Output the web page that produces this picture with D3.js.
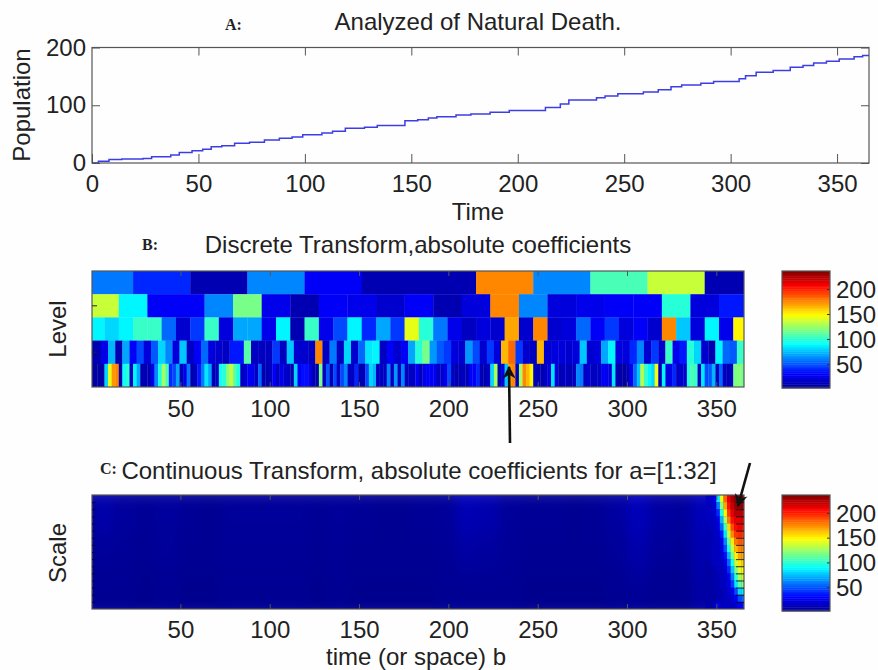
<!DOCTYPE html>
<html>
<head>
<meta charset="utf-8">
<script src="https://cdn.jsdelivr.net/npm/d3@7"></script>
<style>
  html, body { margin: 0; padding: 0; background: #fefefe; }
  svg { display: block; font-family: "Liberation Sans", Arial, sans-serif; fill: #222; }
  .lbl { font-size: 24px; }
  .ser { font-family: "Liberation Serif", serif; font-weight: bold; font-size: 16px; }
</style>
</head>
<body>
<div id="chart"></div>
<script>
// panel A: days where the count steps up, and the count after each step
const stepDays = [0,3,8,14,24,28,37,41,47,52,56,61,67,74,81,88,94,99,108,113,119,128,134,147,153,158,162,171,178,187,196,213,220,224,237,241,247,259,266,272,277,286,292,304,307,312,320,328,334,339,345,351,358,362,365];
const stepPops = [0,3,6,7,8,11,14,18,21,24,28,30,34,36,40,43,45,49,52,55,60,62,65,73,75,78,80,83,85,88,91,96,102,109,113,116,120,123,127,132,135,138,141,146,151,157,160,166,169,173,176,180,184,186,186];

// panel B: detail coefficients, level rows from top to bottom
const level1 = [60,42,12,62,30,12,12,178,62,106,135,12];
const level2 = [138,88,30,30,62,118,26,12,30,26,18,32,12,22,178,62,24,28,30,30,100,22,36];
const level3 = [88,82,88,105,105,55,20,45,105,22,70,70,28,88,12,105,26,48,88,42,72,45,145,100,60,28,14,24,18,170,18,178,20,22,55,30,45,22,32,20,178,78,22,90,28,152];
const level4 = [12,28,75,12,72,32,48,22,52,80,62,24,78,16,30,55,22,20,14,36,38,110,14,16,14,45,16,78,18,20,16,178,14,58,14,80,18,55,85,88,16,30,18,32,70,100,
  118,66,52,46,22,20,66,50,20,44,22,165,185,44,18,14,165,18,22,22,20,22,78,20,22,70,88,22,22,40,62,20,44,18,105,28,38,100,82,18,12,88,55,52,105];
const level5 = [10,10,10,10,80,145,172,178,12,92,100,14,88,72,12,12,12,28,65,95,130,108,40,48,72,12,26,60,12,14,36,58,85,72,12,14,92,100,122,135,112,95,14,18,30,28,16,
  55,12,12,16,30,16,26,18,14,12,80,32,34,34,28,12,12,118,14,52,12,50,16,50,65,14,14,42,12,12,50,82,75,16,16,16,62,16,68,16,62,16,16,16,30,12,
  28,30,30,26,14,20,28,50,14,12,12,14,12,30,32,42,12,12,14,80,130,12,22,78,172,178,14,130,175,165,150,14,12,12,14,22,85,24,12,14,14,12,16,62,60,14,18,
  14,14,16,30,28,24,85,12,10,10,12,30,55,78,132,105,90,80,148,12,90,22,26,40,14,18,20,100,108,105,14,85,50,52,75,14,55,16,12,16,118,122,118];
const levelRows = [level1, level2, level3, level4, level5];
const levelFirstDays = [23, 15, 7, 5, 1];
const levelStepDays = [32, 16, 8, 4, 2];

// panel C: faint background by 12 day column, three bands from small scale to large
const bgTop = [10,7,5,7,5,4,6,6,6,6,5,6,5,4,4,5,6,13,11,6,5,5,4,5,8,14,8,7,14];
const bgMid = [6,5,4,6,4,4,5,5,5,5,4,5,4,4,4,4,5,8,7,5,4,4,4,4,6,10,6,5,12];
const bgLow = [4,4,3,4,3,3,4,4,4,4,3,4,3,3,3,3,4,4,4,4,3,3,3,3,4,5,4,4,9];
const bgBands = [bgTop, bgMid, bgLow];

// panel C: end of year wedge, one row per 2 scales, columns are wedgeDays
const wedgeDays = [345,347,349,351,353,355,357,359,361,363,365];
const wedgeRows = [
  [16,16,25,85,145,185,212,228,235,235,235],
  [14,16,20,60,120,170,205,222,232,232,230],
  [14,14,18,40,95,150,195,215,225,225,220],
  [14,14,16,28,75,130,180,205,215,215,212],
  [12,14,16,22,55,105,160,190,205,208,205],
  [12,12,16,18,38,85,135,175,195,200,195],
  [12,12,14,16,28,65,115,155,180,188,185],
  [12,12,14,16,22,48,95,135,165,178,178],
  [12,12,14,14,18,35,75,118,150,168,170],
  [10,12,14,14,16,26,55,98,135,155,160],
  [10,10,12,14,16,20,40,78,118,145,150],
  [10,10,12,12,14,16,28,60,100,130,135],
  [10,10,12,12,14,16,22,45,85,112,120],
  [10,10,10,12,12,14,18,26,50,80,85],
  [10,10,10,12,12,14,16,20,30,50,55],
  [10,10,16,22,16,14,14,16,20,32,34]
];

const ticksA = [0,50,100,150,200,250,300,350];
const ticksB = [50,100,150,200,250,300,350];
const ticksPop = [0,100,200];
const ticksBar = [50,100,150,200];

const width = 878, height = 670;
const svg = d3.select("#chart").append("svg").attr("width", width).attr("height", height);

// jet colormap, 64 levels like matlab
const vMin = 3, vMax = 237;
const jetLine = d3.scaleLinear()
  .domain([0, 0.125, 0.375, 0.625, 0.875, 1])
  .range(["#00008f", "#0000ff", "#00ffff", "#ffff00", "#ff0000", "#800000"]);
const colorOf = d3.scaleQuantize().domain([vMin, vMax]).range(d3.range(64).map(i => jetLine((i + 0.5) / 64)));

const defs = svg.append("defs");
defs.append("filter").attr("id", "soft").attr("x", "-2%").attr("y", "-2%").attr("width", "104%").attr("height", "104%")
  .append("feGaussianBlur").attr("stdDeviation", 0.65);
defs.append("filter").attr("id", "softLine").attr("x", "-2%").attr("y", "-10%").attr("width", "104%").attr("height", "120%")
  .append("feGaussianBlur").attr("stdDeviation", 0.4);

function clipFor(id, x, y, w, h) {
  defs.append("clipPath").attr("id", id).append("rect").attr("x", x).attr("y", y).attr("width", w).attr("height", h);
}

const frameColor = "#555";

function styleAxis(g, fontSize) {
  g.select(".domain").remove();
  g.selectAll("line").attr("stroke", frameColor);
  g.selectAll("text").attr("fill", "#222").style("font-size", fontSize + "px")
    .style("font-family", '"Liberation Sans", Arial, sans-serif');
}

function frame(x, y, w, h) {
  svg.append("rect").attr("x", x).attr("y", y).attr("width", w).attr("height", h)
    .attr("fill", "none").attr("stroke", frameColor).attr("stroke-width", 1.2);
}

function label(text, x, y, anchor) {
  return svg.append("text").attr("class", "lbl").attr("x", x).attr("y", y)
    .attr("text-anchor", anchor || "middle").text(text);
}

function rotLabel(text, x, y) {
  svg.append("text").attr("class", "lbl").attr("text-anchor", "middle")
    .attr("transform", `translate(${x},${y}) rotate(-90)`).text(text);
}

// --- panel A
const ax = d3.scaleLinear().domain([0, 365]).range([92, 869]);
const ay = d3.scaleLinear().domain([0, 200]).range([163, 47.5]);

svg.append("g").attr("transform", "translate(0,163)")
  .call(d3.axisBottom(ax).tickValues(ticksA).tickSize(-9).tickPadding(12))
  .call(g => styleAxis(g, 24));
svg.append("g").attr("transform", "translate(0,47.5)")
  .call(d3.axisTop(ax).tickValues(ticksA.slice(1)).tickSize(-8).tickFormat(""))
  .call(g => styleAxis(g, 24));
svg.append("g").attr("transform", "translate(92,0)")
  .call(d3.axisLeft(ay).tickValues(ticksPop).tickSize(-8).tickPadding(6))
  .call(g => styleAxis(g, 24));
svg.append("g").attr("transform", "translate(869,0)")
  .call(d3.axisRight(ay).tickValues(ticksPop).tickSize(-8).tickFormat(""))
  .call(g => styleAxis(g, 24));

svg.append("path")
  .datum(d3.zip(stepDays, stepPops))
  .attr("fill", "none").attr("stroke", "#3c3ce6").attr("stroke-width", 1.5)
  .attr("filter", "url(#softLine)")
  .attr("d", d3.line().x(d => ax(d[0])).y(d => ay(d[1])).curve(d3.curveStepAfter));
frame(92, 47.5, 777, 115.5);

label("Analyzed of Natural Death.", 478, 30);
svg.append("text").attr("class", "ser").attr("x", 225).attr("y", 30).text("A:");
rotLabel("Population", 30, 105);
label("Time", 478, 220);

// --- panel B
const bx = d3.scaleLinear().domain([0.5, 365.5]).range([92, 744]);
const by = d3.scaleBand().domain(d3.range(levelRows.length)).range([271, 387]);

clipFor("clipB", 92, 271, 652, 116);
const heatB = svg.append("g").attr("clip-path", "url(#clipB)").append("g").attr("filter", "url(#soft)");
levelRows.forEach((row, r) => {
  // first block is shorter, the rest follow the dyadic step
  const starts = row.map((v, i) => i === 0 ? 0.5 : 0.5 + levelFirstDays[r] + (i - 1) * levelStepDays[r]);
  heatB.selectAll(`rect.r${r}`)
    .data(row)
    .join("rect")
    .attr("class", `r${r}`)
    .attr("x", (d, i) => bx(starts[i]))
    .attr("y", by(r))
    .attr("width", (d, i) => (i + 1 < starts.length ? bx(starts[i + 1]) : bx(365.5)) - bx(starts[i]) + 0.3)
    .attr("height", by.bandwidth() + 0.3)
    .attr("fill", d => colorOf(d));
});

function heatAxes(y0, y1, pad) {
  svg.append("g").attr("transform", `translate(0,${y1})`)
    .call(d3.axisBottom(bx).tickValues(ticksB).tickSize(-5).tickPadding(pad))
    .call(g => styleAxis(g, 24));
  svg.append("g").attr("transform", `translate(0,${y0})`)
    .call(d3.axisTop(bx).tickValues(ticksB).tickSize(-5).tickFormat(""))
    .call(g => styleAxis(g, 24));
  frame(92, y0, 652, y1 - y0);
}
heatAxes(271, 387, 13);
svg.selectAll("line.rowTick")
  .data([by(1) + by.bandwidth() / 2 - 11, by(3) + by.bandwidth() / 2 - 11])
  .join("line").attr("class", "rowTick")
  .attr("x1", 92).attr("x2", 97).attr("y1", d => d + 11).attr("y2", d => d + 11)
  .attr("stroke", "#223");

label("Discrete Transform,absolute coefficients", 418, 253);
svg.append("text").attr("class", "ser").attr("x", 142).attr("y", 250).text("B:");
rotLabel("Level", 66, 329);

// --- panel C
const cy = d3.scaleBand().domain(d3.range(wedgeRows.length)).range([495, 609]);
const bandY = d3.scaleBand().domain(d3.range(bgBands.length)).range([495, 609]);

clipFor("clipC", 92, 495, 652, 114);
const heatC = svg.append("g").attr("clip-path", "url(#clipC)").append("g").attr("filter", "url(#soft)");
const softer = defs.append("filter").attr("id", "softer");
softer.append("feGaussianBlur").attr("stdDeviation", "5 12");
const bgGroup = heatC.append("g").attr("filter", "url(#softer)");
bgGroup.append("rect").attr("x", 80).attr("y", 480).attr("width", 680).attr("height", 145).attr("fill", colorOf(bgLow[0]));
bgBands.forEach((band, b) => {
  bgGroup.selectAll(`rect.b${b}`)
    .data(band)
    .join("rect")
    .attr("class", `b${b}`)
    .attr("x", (d, i) => bx(0.5 + i * 12))
    .attr("y", b === 0 ? 480 : b === 2 ? bandY(b) : bandY(b))
    .attr("width", bx(12.5) - bx(0.5) + 0.3)
    .attr("height", bandY.bandwidth() + (b === 0 ? 15 : b === 2 ? 20 : 0))
    .attr("fill", d => jetLine((d - vMin) / (vMax - vMin)));
});
wedgeRows.forEach((row, r) => {
  heatC.selectAll(`rect.w${r}`)
    .data(row)
    .join("rect")
    .attr("class", `w${r}`)
    .attr("x", (d, i) => bx(wedgeDays[i] - 1))
    .attr("y", cy(r))
    .attr("width", bx(3) - bx(1) + 0.3)
    .attr("height", cy.bandwidth() + 0.3)
    .attr("fill", d => colorOf(d));
});

heatAxes(495, 609, 12);
// scale ticks, dark on the blue field
cy.domain().forEach(r => {
  const y = cy(r) + 0.5;
  if (r === 0) return;
  svg.append("line").attr("x1", 92).attr("x2", 96).attr("y1", y).attr("y2", y).attr("stroke", "#000050");
  svg.append("line").attr("x1", 736).attr("x2", 744).attr("y1", y).attr("y2", y).attr("stroke", "#111").attr("opacity", 0.85);
});

label("Continuous Transform, absolute coefficients for a=[1:32]", 419, 479);
svg.append("text").attr("class", "ser").attr("x", 100).attr("y", 474).text("C:");
rotLabel("Scale", 66, 553);
label("time (or space) b", 416, 665);

// --- colour bars
function colorBar(y0, y1) {
  const barScale = d3.scaleLinear().domain([vMin, vMax]).range([y1, y0]);
  const levels = colorOf.range();
  const step = (y1 - y0) / levels.length;
  const g = svg.append("g").attr("filter", "url(#soft)");
  g.selectAll("rect").data(levels).join("rect")
    .attr("x", 782).attr("width", 48)
    .attr("y", (d, i) => y1 - (i + 1) * step)
    .attr("height", step + 0.4)
    .attr("fill", d => d);
  svg.append("g").attr("transform", "translate(830,0)")
    .call(d3.axisRight(barScale).tickValues(ticksBar).tickSize(0).tickPadding(6))
    .call(a => styleAxis(a, 24));
  svg.selectAll(null).data(ticksBar).join("line")
    .attr("x1", 827).attr("x2", 830)
    .attr("y1", d => barScale(d)).attr("y2", d => barScale(d))
    .attr("stroke", "#333");
  frame(782, y0, 48, y1 - y0);
}
colorBar(271, 388);
colorBar(495, 611);

// --- arrows marking the two features
defs.append("marker").attr("id", "head").attr("viewBox", "0 0 10 10")
  .attr("refX", 9).attr("refY", 5).attr("markerWidth", 5).attr("markerHeight", 6).attr("orient", "auto")
  .append("path").attr("d", "M0,0 L10,5 L0,10 L3,5 Z").attr("fill", "#111");

const arrows = [
  { from: [510, 443], to: [509, 367] },
  { from: [750, 463], to: [738, 506] }
];
svg.selectAll("line.arrow").data(arrows).join("line")
  .attr("class", "arrow")
  .attr("x1", d => d.from[0]).attr("y1", d => d.from[1])
  .attr("x2", d => d.to[0]).attr("y2", d => d.to[1])
  .attr("stroke", "#111").attr("stroke-width", 2.6)
  .attr("marker-end", "url(#head)");
</script>
</body>
</html>
